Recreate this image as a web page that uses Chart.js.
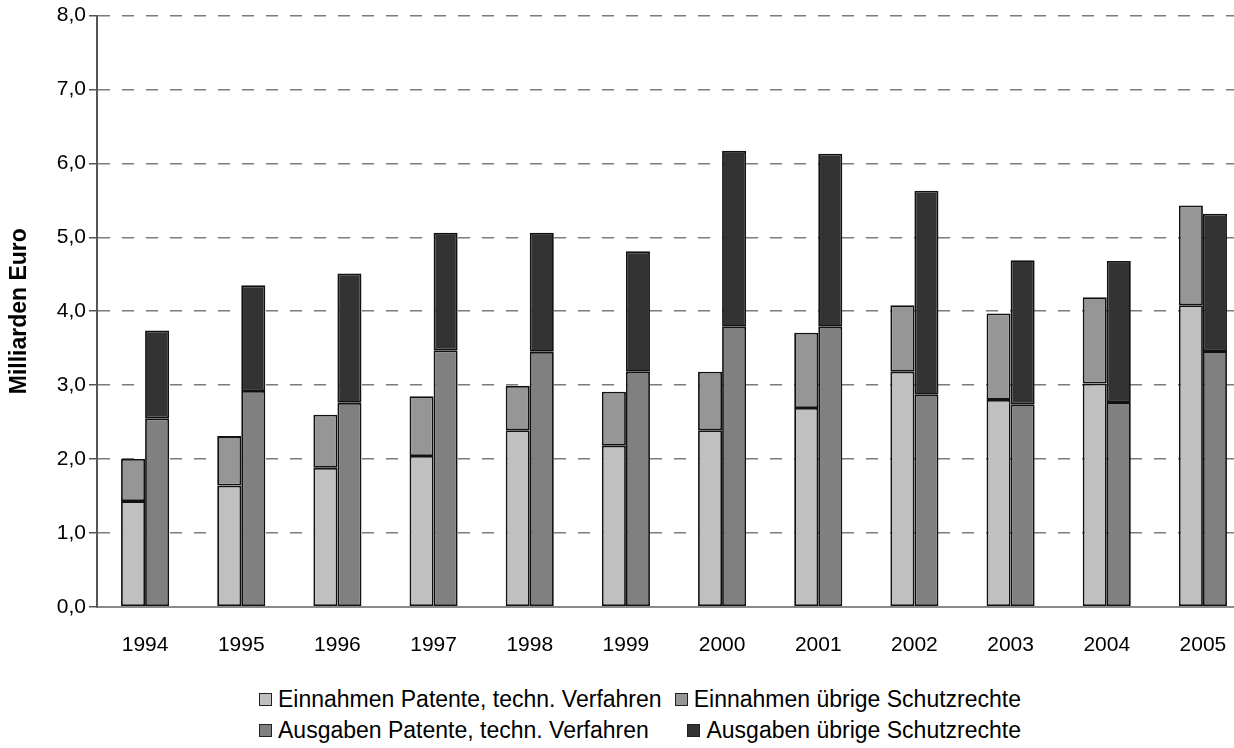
<!DOCTYPE html>
<html lang="de">
<head>
<meta charset="utf-8">
<title>Patente und Schutzrechte</title>
<script src="https://cdn.jsdelivr.net/npm/chart.js@4.4.1/dist/chart.umd.min.js"></script>
<style>
  html, body { margin: 0; padding: 0; background: #fff; overflow: hidden; }
  body { width: 1234px; height: 748px; position: relative; font-family: "Liberation Sans", Arial, sans-serif; }
  #wrap { position: absolute; left: 0; top: 0; width: 1256px; height: 684px; }
  #legende { position: absolute; left: 259px; top: 684px; width: 762px; }
  .zeile { display: flex; justify-content: space-between; height: 31px; align-items: center; }
  .eintrag { display: flex; align-items: center; font-size: 23px; color: #000; white-space: nowrap; }
  .kasten { width: 11px; height: 11px; border: 1.5px solid #222; margin-right: 6px; }
</style>
</head>
<body>
<div id="wrap"><canvas id="grafik"></canvas></div>
<div id="legende"></div>
<script>
  // ==========================================
  // DATEN (Milliarden Euro)
  // ==========================================

  var jahre = ["1994", "1995", "1996", "1997", "1998", "1999", "2000", "2001", "2002", "2003", "2004", "2005"];
  var einnahmenPatente = [1.43, 1.64, 1.88, 2.04, 2.39, 2.18, 2.39, 2.69, 3.18, 2.80, 3.02, 4.08];
  var einnahmenUebrige = [0.57, 0.67, 0.72, 0.81, 0.60, 0.73, 0.79, 1.02, 0.90, 1.17, 1.17, 1.35];
  var ausgabenPatente = [2.55, 2.92, 2.76, 3.47, 3.45, 3.18, 3.79, 3.79, 2.87, 2.74, 2.77, 3.46];
  var ausgabenUebrige = [1.19, 1.43, 1.75, 1.59, 1.61, 1.63, 2.38, 2.34, 2.76, 1.95, 1.91, 1.86];
  var yTicks = [0, 1, 2, 3, 4, 5, 6, 7, 8];

  var schrift = "'Liberation Sans', Arial, sans-serif";

  var datensaetze = [
    { label: "Einnahmen Patente, techn. Verfahren", data: einnahmenPatente, backgroundColor: "#c0c0c0", stack: "ein" },
    { label: "Einnahmen übrige Schutzrechte", data: einnahmenUebrige, backgroundColor: "#969696", stack: "ein" },
    { label: "Ausgaben Patente, techn. Verfahren", data: ausgabenPatente, backgroundColor: "#808080", stack: "aus" },
    { label: "Ausgaben übrige Schutzrechte", data: ausgabenUebrige, backgroundColor: "#333333", stack: "aus" }
  ];

  datensaetze.forEach(function (ds) {
    ds.borderColor = "#111";
    ds.borderWidth = 1.8;
    ds.borderSkipped = false;
    ds.categoryPercentage = 0.5;
    ds.barPercentage = 1.0;
  });

  var ctx = document.getElementById("grafik");
  new Chart(ctx, {
    type: "bar",
    data: { labels: jahre, datasets: datensaetze },
    options: {
      responsive: true,
      maintainAspectRatio: false,
      animation: false,
      layout: { padding: { top: 9, right: 5, left: 0, bottom: 0 } },
      plugins: {
        legend: { display: false },
        tooltip: { enabled: false }
      },
      scales: {
        x: {
          stacked: true,
          grid: { display: false, drawTicks: false },
          border: { display: true, color: "#8a8a8a", width: 2 },
          ticks: { color: "#000", padding: 26, font: { family: schrift, size: 21 } }
        },
        y: {
          stacked: true,
          min: 0,
          max: 8,
          afterBuildTicks: function (scale) {
            scale.ticks = yTicks.map(function (v) { return { value: v }; });
          },
          afterFit: function (scale) { scale.width = 97; },
          grid: {
            color: "#7a7a7a",
            lineWidth: 1.5,
            tickLength: 8,
            tickBorderDash: [],
            tickColor: "#555"
          },
          border: { display: true, color: "#555", width: 2, dash: [12, 12] },
          ticks: {
            color: "#000",
            padding: 3,
            font: { family: schrift, size: 21 },
            callback: function (v) { return v.toFixed(1).replace(".", ","); }
          },
          title: {
            display: true,
            text: "Milliarden Euro",
            color: "#000",
            padding: { top: 6, bottom: 0 },
            font: { family: schrift, size: 23, weight: "bold" }
          }
        }
      }
    }
  });

  // ==========================================
  // LEGENDE (zwei Zeilen wie im Original)
  // ==========================================

  var legende = document.getElementById("legende");
  [[0, 1], [2, 3]].forEach(function (paar) {
    var zeile = document.createElement("div");
    zeile.className = "zeile";
    paar.forEach(function (i) {
      var eintrag = document.createElement("span");
      eintrag.className = "eintrag";
      var kasten = document.createElement("span");
      kasten.className = "kasten";
      kasten.style.background = datensaetze[i].backgroundColor;
      eintrag.appendChild(kasten);
      eintrag.appendChild(document.createTextNode(datensaetze[i].label));
      zeile.appendChild(eintrag);
    });
    legende.appendChild(zeile);
  });
</script>
</body>
</html>
